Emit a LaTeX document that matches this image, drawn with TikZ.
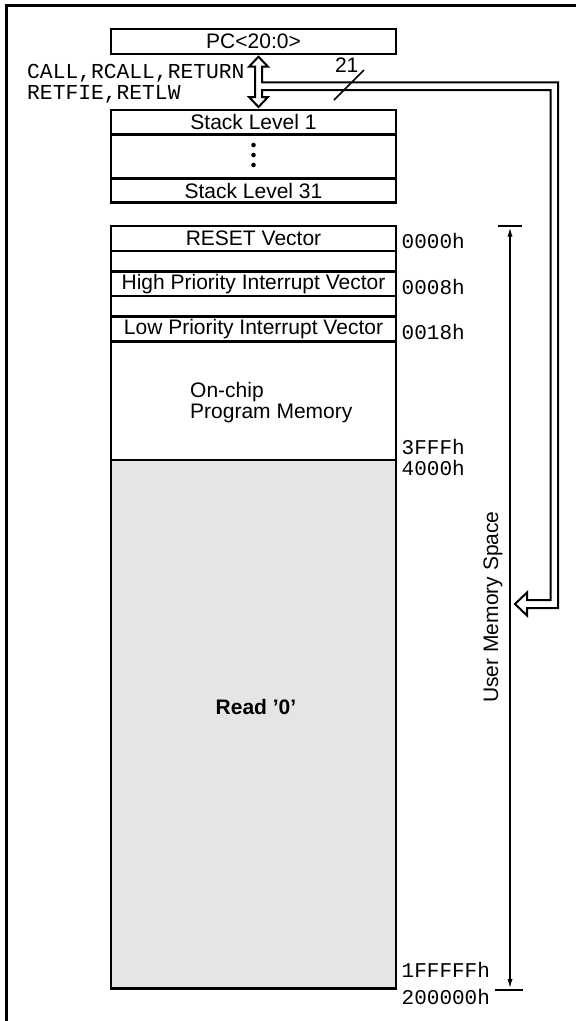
\documentclass[tikz,border=0pt]{standalone}
\usepackage{fontspec}
\setmainfont{Liberation Sans}
\setmonofont{Liberation Mono}
\usetikzlibrary{arrows.meta,calc}
\tikzset{
  membox/.style={draw, line width=2.6pt, minimum width=285pt, inner sep=0pt,
    font=\fontsize{21}{24}\selectfont},
  lbl/.style={inner sep=0pt, font=\fontsize{21}{24}\selectfont},
  addr/.style={inner sep=0pt, anchor=west, font=\ttfamily\fontsize{21}{24}\selectfont},
  bus/.style={draw, line width=2pt, fill=white, line join=miter},
  thinline/.style={line width=2pt},
}
\begin{document}
\begin{tikzpicture}[x=1pt,y=-1pt]
\useasboundingbox (0,0) rectangle (576,1021);
% frame
\draw[line width=2.6pt] (576,5.5) -- (6.6,5.5) -- (6.6,1021);

% PC and stack
\node[membox, minimum height=25pt] (pc) at (253.5,41.5) {PC<20:0>};
\node[membox, minimum height=24.3pt] (sl1) at (253.5,122.2) {Stack Level 1};
\node[membox, minimum height=44pt] (sdots) at (253.5,156.3) {};
\node[membox, minimum height=24.4pt] (sl31) at (253.5,190.5) {Stack Level 31};
\foreach \yy in {145,155,165} \fill (253.5,\yy) circle (2.3);

% instructions label
\node[inner sep=0pt, anchor=west, align=left,
      font=\ttfamily\fontsize{21.3}{20.5}\selectfont] (instr) at (27,84) {CALL,RCALL,RETURN\\RETFIE,RETLW};

% bus: double arrow PC <-> stack, and path to memory space
\draw[bus] (258.5,56.7) -- (268,66.7) -- (262,66.7) -- (262,82.3) -- (558,82.3)
  -- (558,608) -- (527,608) -- (527,615.5) -- (515,604) -- (527,592.5) -- (527,600)
  -- (550.5,600) -- (550.5,90) -- (262,90) -- (262,97) -- (268,97) -- (258.5,107)
  -- (249,97) -- (255,97) -- (255,66.7) -- (249,66.7) -- cycle;
\coordinate (s1) at (334,100);
\coordinate (s2) at (364,70);
\draw[line width=1.5pt] (s1) -- (s2);
\node[lbl] (w21) at (346.7,65) {21};

% memory map
\node[membox, minimum height=25pt] (reset) at (253.5,238.5) {RESET Vector};
\node[membox, minimum height=20.7pt] (e1) at (253.5,261.3) {};
\node[membox, minimum height=24.3pt] (hp) at (253.5,284) {High Priority Interrupt Vector};
\node[membox, minimum height=20.7pt] (e2) at (253.5,306.3) {};
\node[membox, minimum height=25pt] (lp) at (253.5,329.2) {Low Priority Interrupt Vector};
\node[membox, minimum height=118.3pt] (onchip) at (253.5,400.8) {};
\node[inner sep=0pt, anchor=west, align=left, font=\fontsize{21}{21.3}\selectfont]
  (onchiptxt) at (190,402.3) {On-chip\\Program Memory};
\node[membox, minimum height=528.3pt, fill=black!10] (grey) at (253.5,724.2) {};
\node[lbl, font=\bfseries\fontsize{21}{24}\selectfont] (read) at (256,707) {Read '0'};

% addresses
\node[addr] (a0) at (401.5,240.7) {0000h};
\node[addr] (a8) at (401.5,287) {0008h};
\node[addr] (a18) at (401.5,331.5) {0018h};
\node[addr] (a3fff) at (401.5,446.5) {3FFFh};
\node[addr] (a4000) at (401.5,468) {4000h};
\node[addr] (a1f) at (401.5,970) {1FFFFFh};
\node[addr] (a2) at (401.5,997) {200000h};

% user memory space
\coordinate (ut) at (510,225.7);
\coordinate (ub) at (510,990);
\draw[thinline] (498,225.7) -- (522,225.7);
\draw[thinline] (495,990) -- (522.7,990);
\draw[thinline, {Latex[length=11pt,width=5pt]}-{Latex[length=11pt,width=5pt]}] (ut) -- (ub);
\node[lbl, rotate=90] (ums) at (493,607) {User Memory Space};
\end{tikzpicture}
\end{document}
